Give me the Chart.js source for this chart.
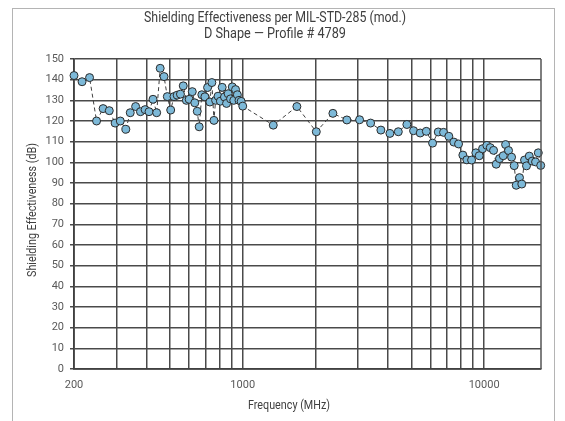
<!DOCTYPE html>
<html><head><meta charset="utf-8">
<script src="https://cdn.jsdelivr.net/npm/chart.js@4.4.1/dist/chart.umd.min.js"></script>
<style>
html,body{margin:0;padding:0;background:#fff;width:565px;height:421px;overflow:hidden;}
#frame{position:absolute;left:12px;top:8px;width:543px;height:440px;border:1px solid #b4b4b4;box-sizing:border-box;}
#wrap{position:absolute;left:0;top:0;width:565px;height:421px;}
</style></head><body>
<div id="frame"></div>
<div id="wrap"><canvas id="c" width="565" height="421"></canvas></div>
<script>
const titleLines = ['Shielding Effectiveness per MIL-STD-285 (mod.)', 'D Shape \u2014 Profile # 4789'];
const xAxisTitle = 'Frequency (MHz)';
const yAxisTitle = 'Shielding Effectiveness (dB)';

const frequencies = [200,216,232,248,264,280,296,311,328,342,360,377,394,409,425,440,455,472,487,503,519,535,552,567,584,600,618,633,648,660,677,697,715,731,745,760,772,790,808,822,840,857,870,890,905,918,934,950,965,985,1000,
  1338,1676,2017,2363,2700,3048,3386,3735,4070,4410,4785,5100,5435,5760,6115,6455,6790,7140,7490,7833,8162,8480,8870,9240,9544,9850,10260,10600,10940,11220,11580,12000,12270,12620,12990,13320,13580,14010,14320,14700,14980,15380,15820,16330,16760,17150];
const shielding = [142,139,141,120,126,125,119,120,116,124,127,124.5,125.5,124.5,130.5,124,145.5,141.5,131.8,125.3,131.8,132.5,133,137,130,130.5,134.2,128.8,124.7,117.2,132.7,131.7,136.2,129.2,138.6,120.3,130,132,129.6,136.3,131.6,128.5,133.2,130.7,136.5,130,135.2,132.7,130,129.5,127.2,
  118,127,114.8,123.7,120.5,120.6,119,115.6,114,114.8,118.3,115.3,114.2,115,109.3,114.7,114.5,112.6,109.8,108.9,103.5,101.2,101.1,104.6,103.2,106.6,108.2,107.1,105.8,99.1,101.8,103.2,108.6,105.7,102.5,98.4,88.9,92.6,89.5,101.1,98.3,103,100.6,100.2,104.6,98.5];

const xGridTicks = [200,300,400,500,600,700,800,900,1000,2000,3000,4000,5000,6000,7000,8000,9000,10000];
const xLabeledTicks = [200,1000,10000];
const xMin = 200, xMax = 17200;
const yMin = 0, yMax = 150, yStep = 10;

const FONT = 'Roboto, "Noto Sans", sans-serif';

const textPlugin = {
  id: 'texts',
  afterDraw(chart) {
    const ctx = chart.ctx;
    const a = chart.chartArea;
    ctx.save();
    ctx.strokeStyle = '#555';
    ctx.lineWidth = 1.5;
    ctx.beginPath();
    ctx.moveTo(a.right, a.top);
    ctx.lineTo(a.right, a.bottom);
    ctx.stroke();
    ctx.fillStyle = '#404040';
    ctx.textAlign = 'center';
    ctx.textBaseline = 'middle';
    ctx.font = '14.5px ' + FONT;
    ctx.fillText(titleLines[0], 275, 18, 262);
    ctx.fillText(titleLines[1], 275, 34, 142);
    ctx.font = '12.5px ' + FONT;
    ctx.fillText(xAxisTitle, 289, 406, 82);
    ctx.translate(33, 210);
    ctx.rotate(-Math.PI / 2);
    ctx.font = '13px ' + FONT;
    ctx.fillText(yAxisTitle, 0, 0, 134);
    ctx.restore();
  }
};

new Chart(document.getElementById('c'), {
  type: 'line',
  data: {
    datasets: [{
      data: frequencies.map((f, i) => ({x: f, y: shielding[i]})),
      borderColor: '#404040',
      borderWidth: 1,
      borderDash: [4, 3],
      pointRadius: 4,
      pointBackgroundColor: '#7db9d8',
      pointBorderColor: '#2b2b2b',
      pointBorderWidth: 1,
      tension: 0,
      clip: false
    }]
  },
  options: {
    responsive: false,
    animation: false,
    devicePixelRatio: 1,
    layout: {padding: {left: 0, right: 24, top: 59, bottom: 0}},
    plugins: {legend: {display: false}, tooltip: {enabled: false}, title: {display: false}},
    scales: {
      x: {
        type: 'logarithmic',
        min: xMin, max: xMax,
        afterBuildTicks: s => { s.ticks = xGridTicks.map(v => ({value: v})); },
        afterFit: s => { s.height = 52; },
        ticks: {
          autoSkip: false, maxRotation: 0, minRotation: 0,
          callback: v => xLabeledTicks.includes(v) ? String(v) : '',
          color: '#595959', font: {size: 11, family: FONT}, padding: 10
        },
        grid: {color: '#4a4a4a', lineWidth: 1.5, drawTicks: false},
        border: {color: '#404040', width: 1.8}
      },
      y: {
        min: yMin, max: yMax,
        afterFit: s => { s.width = 74; },
        ticks: {stepSize: yStep, color: '#595959', font: {size: 11, family: FONT}, padding: 6},
        grid: {color: '#4a4a4a', lineWidth: 1.5, tickLength: 4},
        border: {color: '#404040', width: 1.8}
      }
    }
  },
  plugins: [textPlugin]
});
</script>
</body></html>
